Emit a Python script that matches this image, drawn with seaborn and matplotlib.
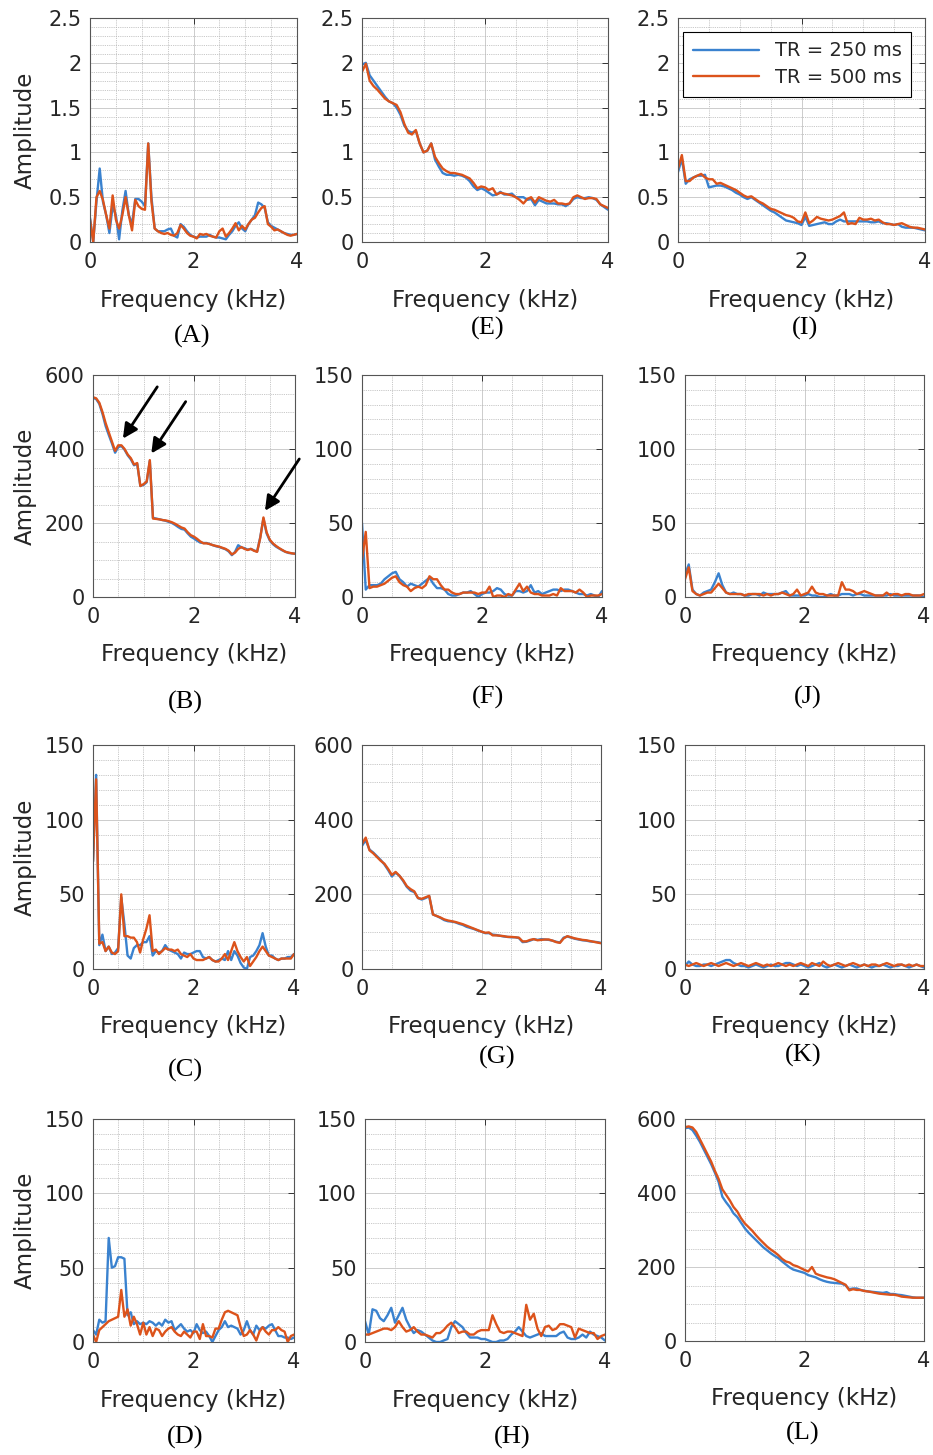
import matplotlib
matplotlib.use("Agg")
import matplotlib.pyplot as plt
from matplotlib.ticker import MultipleLocator, FuncFormatter
import numpy as np
import pandas as pd
import seaborn as sns

# frequency bins (kHz), 62.5 Hz spacing
freq_khz = np.linspace(0, 4, 65)
tr_labels = ["TR = 250 ms", "TR = 500 ms"]

A_250 = [0.27, 0.0, 0.45, 0.82, 0.45, 0.30, 0.10, 0.40, 0.30, 0.03,
         0.35, 0.57, 0.30, 0.20, 0.48, 0.48, 0.45, 0.40, 1.10, 0.50,
         0.15, 0.12, 0.12, 0.12, 0.14, 0.15, 0.07, 0.05, 0.20, 0.17,
         0.12, 0.08, 0.06, 0.05, 0.06, 0.06, 0.06, 0.08, 0.06, 0.05,
         0.05, 0.04, 0.03, 0.08, 0.12, 0.18, 0.22, 0.15, 0.12, 0.20,
         0.25, 0.30, 0.44, 0.42, 0.38, 0.22, 0.18, 0.16, 0.14, 0.12,
         0.10, 0.09, 0.08, 0.08, 0.09]
A_500 = [0.25, 0.0, 0.50, 0.57, 0.47, 0.30, 0.15, 0.52, 0.25, 0.15,
         0.30, 0.50, 0.30, 0.13, 0.47, 0.40, 0.37, 0.36, 1.10, 0.45,
         0.15, 0.12, 0.10, 0.09, 0.10, 0.08, 0.07, 0.10, 0.19, 0.15,
         0.10, 0.07, 0.06, 0.04, 0.09, 0.08, 0.09, 0.07, 0.06, 0.05,
         0.12, 0.15, 0.06, 0.10, 0.15, 0.21, 0.13, 0.18, 0.14, 0.20,
         0.25, 0.27, 0.33, 0.38, 0.40, 0.20, 0.17, 0.13, 0.14, 0.12,
         0.10, 0.08, 0.07, 0.08, 0.09]

B_250 = [538, 535, 522, 495, 462, 438, 415, 390, 405, 408,
         398, 383, 372, 356, 360, 300, 303, 310, 368, 214,
         212, 210, 208, 206, 203, 200, 195, 189, 184, 182,
         172, 163, 158, 152, 147, 146, 146, 143, 140, 137,
         135, 132, 129, 123, 113, 122, 140, 134, 132, 128,
         130, 126, 123, 162, 212, 172, 153, 143, 136, 131,
         126, 122, 119, 118, 117]
B_500 = [540, 537, 525, 500, 470, 445, 420, 395, 410, 410,
         400, 385, 375, 358, 362, 300, 305, 312, 370, 212,
         211, 210, 208, 207, 205, 202, 198, 193, 188, 185,
         175, 167, 163, 157, 150, 145, 145, 143, 140, 138,
         136, 133, 130, 125, 115, 120, 130, 135, 130, 127,
         130, 125, 122, 160, 215, 175, 155, 145, 138, 132,
         127, 122, 120, 118, 117]

C_250 = [72, 130, 16, 23, 12, 15, 10, 11, 14, 48,
         30, 9, 7, 14, 16, 16, 18, 18, 22, 9,
         12, 11, 12, 16, 13, 12, 11, 10, 7, 11,
         10, 10, 11, 12, 12, 8, 7, 8, 6, 5,
         6, 7, 6, 12, 6, 12, 9, 4, 1, 0,
         8, 9, 12, 16, 24, 15, 9, 9, 7, 6,
         7, 7, 8, 8, 10]
C_500 = [72, 127, 17, 18, 12, 15, 11, 10, 12, 50,
         22, 22, 21, 21, 18, 11, 20, 27, 36, 12,
         13, 10, 12, 14, 13, 13, 12, 13, 10, 9,
         8, 10, 7, 6, 6, 6, 7, 8, 6, 5,
         5, 7, 10, 6, 12, 18, 12, 8, 5, 8,
         2, 5, 8, 12, 15, 12, 9, 8, 7, 6,
         7, 7, 7, 7, 10]

D_250 = [8, 5, 15, 13, 14, 70, 50, 51, 57, 57,
         56, 18, 20, 12, 14, 12, 13, 12, 14, 13,
         11, 13, 11, 15, 13, 14, 8, 10, 12, 9,
         7, 8, 6, 12, 8, 6, 7, 4, 0, 4,
         8, 10, 14, 10, 11, 10, 9, 5, 8, 14,
         8, 5, 11, 8, 10, 9, 11, 12, 8, 4,
         4, 3, 3, 2, 3]
D_500 = [5, 0, 8, 10, 12, 14, 15, 16, 17, 35,
         17, 22, 11, 17, 12, 5, 13, 5, 10, 4,
         9, 8, 4, 7, 9, 10, 7, 5, 4, 7,
         5, 3, 7, 7, 2, 12, 4, 4, 3, 9,
         9, 15, 20, 21, 20, 19, 18, 10, 4, 5,
         8, 5, 1, 7, 10, 7, 5, 8, 8, 10,
         8, 7, 0, 4, 5]

E_250 = [1.98, 2.00, 1.86, 1.80, 1.74, 1.68, 1.62, 1.57, 1.55, 1.50,
         1.42, 1.30, 1.24, 1.22, 1.24, 1.10, 1.00, 1.02, 1.10, 0.92,
         0.84, 0.77, 0.75, 0.75, 0.74, 0.75, 0.74, 0.72, 0.68, 0.62,
         0.58, 0.60, 0.58, 0.55, 0.52, 0.53, 0.56, 0.53, 0.53, 0.54,
         0.50, 0.50, 0.50, 0.47, 0.48, 0.41, 0.47, 0.45, 0.43, 0.43,
         0.43, 0.42, 0.42, 0.40, 0.43, 0.48, 0.50, 0.49, 0.49, 0.50,
         0.49, 0.47, 0.42, 0.39, 0.36]
E_500 = [1.90, 1.99, 1.80, 1.74, 1.70, 1.65, 1.60, 1.57, 1.55, 1.53,
         1.45, 1.32, 1.22, 1.20, 1.25, 1.10, 1.00, 1.02, 1.10, 0.95,
         0.88, 0.82, 0.79, 0.77, 0.77, 0.76, 0.75, 0.73, 0.71, 0.66,
         0.60, 0.62, 0.61, 0.58, 0.60, 0.53, 0.55, 0.54, 0.53, 0.52,
         0.50, 0.47, 0.43, 0.48, 0.50, 0.44, 0.50, 0.48, 0.46, 0.45,
         0.47, 0.43, 0.43, 0.42, 0.43, 0.50, 0.52, 0.50, 0.48, 0.49,
         0.49, 0.48, 0.42, 0.40, 0.38]

F_250 = [50, 5, 8, 8, 8, 9, 12, 14, 16, 17,
         12, 10, 7, 9, 8, 7, 9, 11, 13, 9,
         6, 6, 5, 2, 1, 1, 2, 3, 3, 4,
         2, 0, 2, 3, 3, 4, 6, 5, 2, 1,
         1, 4, 4, 3, 4, 8, 3, 4, 2, 3,
         4, 5, 5, 4, 5, 5, 4, 3, 2, 2,
         1, 2, 1, 0, 4]
F_500 = [25, 44, 6, 7, 7, 8, 9, 11, 13, 14,
         10, 8, 7, 4, 6, 7, 6, 8, 14, 12,
         12, 8, 5, 5, 3, 2, 2, 3, 3, 3,
         3, 2, 3, 3, 7, 0, 1, 1, 0, 2,
         1, 5, 9, 4, 7, 3, 2, 2, 1, 1,
         1, 2, 1, 6, 4, 4, 4, 3, 5, 3,
         0, 1, 1, 1, 2]

G_250 = [330, 345, 320, 312, 302, 292, 280, 265, 248, 258,
         250, 236, 220, 210, 206, 190, 186, 190, 195, 146,
         142, 137, 131, 128, 127, 125, 121, 118, 113, 110,
         107, 103, 100, 96, 96, 92, 91, 89, 87, 86,
         85, 85, 83, 72, 73, 76, 80, 78, 80, 79,
         78, 76, 73, 71, 84, 87, 84, 81, 79, 77,
         76, 74, 73, 72, 70]
G_500 = [335, 352, 318, 310, 300, 290, 282, 268, 252, 260,
         250, 238, 222, 214, 208, 190, 188, 192, 196, 146,
         142, 138, 133, 130, 128, 126, 123, 120, 116, 112,
         108, 104, 100, 97, 98, 90, 90, 89, 88, 86,
         86, 85, 84, 74, 74, 78, 80, 77, 78, 79,
         79, 76, 72, 70, 82, 88, 85, 82, 80, 78,
         77, 75, 73, 71, 69]

H_250 = [14, 5, 22, 21, 16, 14, 18, 23, 13, 18,
         23, 15, 10, 6, 8, 7, 5, 3, 1, 0,
         0, 1, 2, 10, 14, 12, 10, 6, 3, 3,
         3, 2, 2, 1, 0, 0, 1, 1, 2, 5,
         7, 10, 7, 4, 3, 4, 5, 6, 4, 4,
         4, 4, 6, 7, 3, 2, 2, 3, 5, 3,
         7, 5, 4, 3, 1]
H_500 = [5, 5, 6, 7, 8, 9, 9, 8, 10, 14,
         10, 7, 8, 10, 7, 5, 5, 4, 3, 6,
         6, 8, 11, 13, 10, 6, 7, 7, 5, 5,
         7, 8, 8, 8, 18, 12, 7, 6, 7, 7,
         6, 5, 4, 25, 15, 19, 9, 4, 10, 11,
         8, 9, 12, 12, 11, 10, 3, 9, 8, 7,
         6, 6, 2, 4, 5]

I_250 = [0.78, 0.93, 0.65, 0.70, 0.72, 0.74, 0.74, 0.75, 0.61, 0.62,
         0.63, 0.63, 0.62, 0.60, 0.58, 0.55, 0.53, 0.50, 0.48, 0.50,
         0.47, 0.44, 0.41, 0.38, 0.35, 0.33, 0.30, 0.27, 0.24, 0.23,
         0.22, 0.21, 0.19, 0.28, 0.18, 0.19, 0.20, 0.21, 0.22, 0.20,
         0.20, 0.23, 0.25, 0.23, 0.23, 0.23, 0.23, 0.23, 0.23, 0.23,
         0.22, 0.22, 0.23, 0.21, 0.21, 0.20, 0.19, 0.20, 0.17, 0.16,
         0.16, 0.16, 0.15, 0.14, 0.13]
I_500 = [0.82, 0.97, 0.68, 0.68, 0.72, 0.74, 0.76, 0.72, 0.70, 0.70,
         0.65, 0.66, 0.64, 0.62, 0.60, 0.58, 0.55, 0.52, 0.50, 0.51,
         0.48, 0.45, 0.43, 0.40, 0.37, 0.36, 0.34, 0.32, 0.30, 0.29,
         0.27, 0.23, 0.22, 0.33, 0.21, 0.24, 0.28, 0.26, 0.25, 0.24,
         0.25, 0.27, 0.29, 0.33, 0.20, 0.21, 0.20, 0.27, 0.25, 0.25,
         0.26, 0.24, 0.25, 0.22, 0.20, 0.20, 0.19, 0.20, 0.21, 0.19,
         0.17, 0.16, 0.16, 0.15, 0.14]

J_250 = [15, 22, 5, 2, 1, 3, 4, 5, 10, 16,
         8, 3, 2, 3, 2, 2, 1, 1, 2, 2,
         1, 3, 2, 2, 2, 2, 3, 4, 1, 1,
         1, 1, 1, 2, 1, 1, 0, 0, 1, 2,
         1, 1, 2, 2, 2, 1, 2, 2, 1, 1,
         1, 1, 1, 1, 1, 2, 1, 1, 1, 1,
         1, 1, 1, 1, 0]
J_500 = [12, 20, 4, 2, 1, 2, 3, 3, 6, 9,
         6, 3, 2, 2, 2, 2, 1, 2, 2, 2,
         2, 1, 2, 1, 2, 2, 3, 2, 1, 2,
         5, 1, 2, 3, 7, 3, 2, 2, 1, 1,
         1, 1, 10, 5, 5, 4, 2, 3, 4, 3,
         2, 1, 1, 1, 3, 1, 2, 2, 1, 2,
         2, 1, 1, 1, 2]

K_250 = [2, 5, 3, 2, 2, 3, 3, 2, 3, 4,
         5, 6, 6, 4, 3, 2, 2, 1, 2, 3,
         2, 1, 2, 3, 2, 2, 3, 4, 4, 3,
         2, 3, 2, 1, 2, 3, 4, 2, 1, 2,
         3, 2, 1, 2, 3, 2, 1, 2, 3, 2,
         1, 2, 2, 3, 2, 1, 2, 2, 3, 2,
         1, 2, 3, 2, 1]
K_500 = [3, 2, 3, 4, 3, 2, 3, 4, 3, 2,
         3, 4, 3, 2, 3, 4, 3, 2, 3, 4,
         3, 2, 3, 2, 3, 4, 3, 2, 3, 2,
         3, 4, 3, 2, 4, 3, 2, 5, 3, 2,
         3, 4, 3, 2, 3, 4, 3, 2, 3, 2,
         3, 3, 2, 3, 4, 3, 2, 3, 3, 2,
         3, 2, 3, 2, 2]

L_250 = [575, 577, 570, 555, 538, 518, 498, 478, 455, 430,
         390, 375, 362, 345, 335, 320, 305, 293, 283, 273,
         263, 253, 245, 237, 230, 224, 215, 207, 199, 193,
         190, 187, 184, 178, 175, 172, 167, 163, 160, 158,
         157, 156, 155, 150, 140, 142, 142, 138, 136, 134,
         133, 132, 131, 130, 132, 127, 127, 125, 124, 122,
         120, 118, 117, 117, 117]
L_500 = [578, 580, 577, 565, 545, 525, 505, 485, 460, 438,
         410, 395, 380, 362, 350, 332, 318, 308, 298, 286,
         275, 265, 255, 247, 240, 232, 222, 215, 212, 205,
         202, 197, 192, 188, 200, 182, 178, 175, 172, 170,
         167, 162, 157, 152, 137, 140, 138, 138, 135, 134,
         132, 130, 128, 127, 126, 125, 125, 123, 120, 119,
         118, 117, 117, 117, 117]

# name: (TR 250, TR 500, y max, major step, minor step)
panels = {
    "A": (A_250, A_500, 2.5, 0.5, 0.1),
    "B": (B_250, B_500, 600, 200, 50),
    "C": (C_250, C_500, 150, 50, 10),
    "D": (D_250, D_500, 150, 50, 10),
    "E": (E_250, E_500, 2.5, 0.5, 0.1),
    "F": (F_250, F_500, 150, 50, 10),
    "G": (G_250, G_500, 600, 200, 50),
    "H": (H_250, H_500, 150, 50, 10),
    "I": (I_250, I_500, 2.5, 0.5, 0.1),
    "J": (J_250, J_500, 150, 50, 10),
    "K": (K_250, K_500, 150, 50, 10),
    "L": (L_250, L_500, 600, 200, 50),
}
arrow_bins_B = [9, 18, 54]

# axes boxes in pixels: left, top, right, bottom
W, H = 933, 1455
boxes = {
    "A": (90, 18, 297, 242), "E": (362, 18, 608, 242), "I": (678, 18, 925, 242),
    "B": (93, 375, 295, 597), "F": (362, 375, 602, 597), "J": (685, 375, 924, 597),
    "C": (93, 745, 294, 969), "G": (362, 745, 601, 969), "K": (685, 745, 924, 969),
    "D": (93, 1119, 294, 1342), "H": (365, 1119, 605, 1342), "L": (685, 1119, 924, 1341),
}
# panel letter centres in pixels
letter_pos = {
    "A": (192, 336), "E": (488, 328), "I": (805, 328),
    "B": (185, 702), "F": (488, 697), "J": (808, 697),
    "C": (185, 1070), "G": (497, 1057), "K": (803, 1055),
    "D": (185, 1437), "H": (512, 1437), "L": (803, 1433),
}

BLUE = "#3a82cf"
ORANGE = "#dc531b"

sns.set_style("white")
plt.rcParams["font.family"] = ["DejaVu Sans"]

fig = plt.figure(figsize=(W / 100, H / 100), dpi=100)
fmt = FuncFormatter(lambda v, pos: f"{v:g}")

for name, (s250, s500, ymax, major, minor) in panels.items():
    l, t, r, b = boxes[name]
    ax = fig.add_axes([l / W, 1 - b / H, (r - l) / W, (b - t) / H])
    df = pd.DataFrame({
        "Frequency": np.concatenate([freq_khz, freq_khz]),
        "Amplitude": list(s250) + list(s500),
        "TR": [tr_labels[0]] * len(s250) + [tr_labels[1]] * len(s500),
    })
    sns.lineplot(data=df, x="Frequency", y="Amplitude", hue="TR", hue_order=tr_labels,
                 palette=[BLUE, ORANGE], lw=1.7, estimator=None, ax=ax, legend=(name == "I"))
    ax.set_xlim(0, 4)
    ax.set_ylim(0, ymax)
    ax.xaxis.set_major_locator(MultipleLocator(2))
    ax.xaxis.set_minor_locator(MultipleLocator(0.5))
    ax.yaxis.set_major_locator(MultipleLocator(major))
    ax.yaxis.set_minor_locator(MultipleLocator(minor))
    ax.xaxis.set_major_formatter(fmt)
    ax.yaxis.set_major_formatter(fmt)
    ax.set_axisbelow(True)
    ax.grid(which="major", color="#cccccc", lw=0.7, ls="-")
    ax.grid(which="minor", color="#b5b5b5", lw=0.6, ls=(0, (1, 1.2)))
    ax.tick_params(which="major", direction="in", top=True, right=True, length=4,
                   width=0.7, color="#333333", labelsize=15, labelcolor="#262626")
    ax.tick_params(axis="x", which="major", pad=7)
    ax.tick_params(axis="y", which="major", pad=6)
    ax.tick_params(which="minor", length=0)
    for sp in ax.spines.values():
        sp.set_color("#555555")
        sp.set_linewidth(0.8)

    hpx = b - t
    ax.set_xlabel("Frequency (kHz)", fontsize=16.5, color="#262626")
    ax.xaxis.label.set_va("center")
    ax.xaxis.set_label_coords(0.5, -58 / hpx)
    if name in ("A", "B", "C", "D"):
        ax.set_ylabel("Amplitude", fontsize=16.5, color="#262626")
        ax.yaxis.label.set_va("center")
        ax.yaxis.set_label_coords(-(l - 25) / (r - l), 0.5)
    else:
        ax.set_ylabel("")

    if name == "I":
        sns.move_legend(ax, "upper right", title=None, frameon=True, fancybox=False,
                        edgecolor="black", framealpha=1, fontsize=14, handlelength=3.4,
                        borderaxespad=0.7, borderpad=0.5, labelspacing=0.4)
        ax.get_legend().get_frame().set_linewidth(0.8)

    if name == "B":
        for idx in arrow_bins_B:
            hx, hy = freq_khz[idx] + 0.03, s500[idx] + 18
            ax.annotate("", xy=(hx, hy), xytext=(hx + 0.68, hy + 140),
                        arrowprops=dict(arrowstyle="-|>", color="black", lw=2.0,
                                        mutation_scale=22, shrinkA=0, shrinkB=0),
                        annotation_clip=False)

    cx, cy = letter_pos[name]
    fig.text(cx / W, 1 - cy / H, f"({name})", ha="center", va="center",
             fontsize=19, family="Liberation Serif", color="black")

fig.savefig("out.png", dpi=100)
